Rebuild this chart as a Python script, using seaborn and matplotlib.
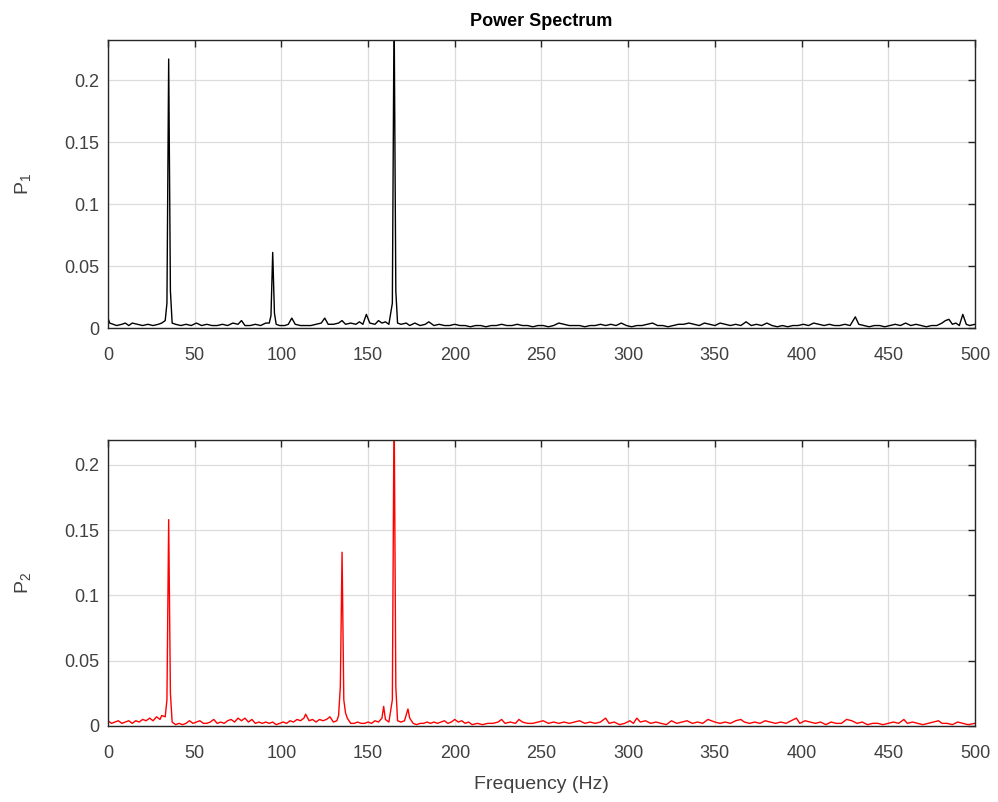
"""
Power spectrum of two signals, MATLAB-style two-panel figure.
"""

import matplotlib

matplotlib.use("Agg")
import matplotlib.pyplot as plt
import seaborn as sns
from matplotlib.ticker import FuncFormatter, MultipleLocator

# --- data ------------------------------------------------------------------
freq_1 = [
    0, 1, 3, 5, 8, 10, 12, 14, 17, 20, 23, 26, 29, 31, 33, 34, 35, 36, 37, 39,
    42, 45, 48, 51, 54, 57, 60, 63, 66, 69, 72, 75, 77, 79, 82, 85, 88, 91, 93,
    94, 95, 96, 97, 99, 102, 104, 106, 108, 111, 114, 117, 120, 123, 125, 127,
    130, 133, 135, 137, 140, 143, 145, 147, 149, 151, 154, 156, 158, 160, 162,
    164, 165, 166, 167, 169, 172, 174, 177, 180, 183, 185, 188, 191, 194, 197,
    200, 203, 206, 209, 212, 215, 218, 221, 224, 227, 230, 233, 236, 239, 242,
    245, 248, 251, 254, 257, 260, 263, 266, 269, 272, 275, 278, 281, 284, 287,
    290, 293, 296, 299, 302, 305, 308, 311, 314, 317, 320, 323, 326, 329, 332,
    335, 338, 341, 344, 347, 350, 353, 356, 359, 362, 365, 368, 371, 374, 377,
    380, 383, 386, 389, 392, 395, 398, 401, 404, 407, 410, 413, 416, 419, 422,
    425, 428, 431, 433, 436, 439, 442, 445, 448, 451, 454, 457, 460, 463, 466,
    469, 472, 475, 478, 481, 483, 485, 487, 489, 491, 493, 495, 497, 500,
]
p_1 = [
    0.008, 0.004, 0.003, 0.002, 0.003, 0.004, 0.002, 0.004, 0.003, 0.002,
    0.003, 0.002, 0.003, 0.004, 0.006, 0.020, 0.217, 0.030, 0.004, 0.003,
    0.002, 0.003, 0.002, 0.004, 0.002, 0.003, 0.002, 0.002, 0.003, 0.002,
    0.004, 0.003, 0.006, 0.002, 0.002, 0.003, 0.002, 0.004, 0.004,
    0.010, 0.061, 0.012, 0.003, 0.002, 0.002, 0.003, 0.008, 0.003, 0.002,
    0.002, 0.002, 0.003, 0.004, 0.008, 0.003,
    0.003, 0.004, 0.006, 0.003, 0.004, 0.003, 0.005, 0.003, 0.011, 0.004,
    0.003, 0.006, 0.004, 0.005, 0.003,
    0.020, 0.260, 0.030, 0.004, 0.003, 0.004, 0.002, 0.004, 0.002, 0.003,
    0.005, 0.002, 0.003, 0.002, 0.002,
    0.003, 0.002, 0.002, 0.001, 0.002, 0.002, 0.001, 0.002, 0.002, 0.003,
    0.002, 0.002, 0.003, 0.002, 0.002,
    0.001, 0.002, 0.002, 0.001, 0.002, 0.004, 0.003, 0.002, 0.002, 0.002,
    0.001, 0.002, 0.002, 0.003, 0.002,
    0.003, 0.002, 0.004, 0.002, 0.001, 0.002, 0.002, 0.003, 0.004, 0.002,
    0.002, 0.001, 0.002, 0.003, 0.003,
    0.004, 0.003, 0.002, 0.004, 0.003, 0.002, 0.004, 0.003, 0.002, 0.003,
    0.002, 0.005, 0.002, 0.003, 0.002,
    0.004, 0.002, 0.001, 0.002, 0.001, 0.002, 0.002, 0.003, 0.002, 0.004,
    0.003, 0.002, 0.003, 0.002, 0.002,
    0.003, 0.002, 0.009, 0.003, 0.002, 0.001, 0.002, 0.002, 0.001, 0.002,
    0.003, 0.002, 0.004, 0.002, 0.003,
    0.002, 0.001, 0.002, 0.002, 0.004, 0.006, 0.007, 0.003, 0.004, 0.002,
    0.011, 0.003, 0.002, 0.003,
]

freq_2 = [
    0, 2, 4, 6, 8, 10, 12, 14, 16, 18, 20, 22, 24, 26, 28, 30, 31, 33, 34, 35,
    36, 37, 39, 41, 43, 45, 47, 49, 51, 53, 55, 57, 59, 61, 63, 65, 67, 69, 71,
    73, 75, 77, 79, 81, 83, 85, 87, 89, 91, 93, 95, 97, 99, 101, 103, 105, 107,
    109, 111, 113, 114, 116, 118, 120, 122, 124, 126, 128, 130, 132, 133, 134,
    135, 136, 137, 138, 140, 142, 144, 146, 148, 150, 152, 154, 156, 158, 159,
    160, 162, 164, 165, 166, 167, 169, 171, 173, 174, 176, 178, 180, 182, 184,
    186, 188, 190, 192, 194, 196, 198, 200, 202, 204, 206, 208, 210, 213, 216,
    219, 222, 225, 227, 229, 232, 235, 237, 239, 242, 245, 248, 251, 254, 257,
    260, 263, 266, 269, 272, 275, 278, 281, 284, 287, 289, 292, 295, 298, 301,
    303, 305, 307, 310, 313, 316, 319, 322, 325, 328, 331, 334, 337, 340, 343,
    346, 348, 350, 353, 356, 359, 362, 365, 367, 370, 373, 376, 379, 382, 385,
    388, 391, 394, 397, 399, 402, 405, 408, 411, 414, 417, 420, 423, 426, 429,
    432, 435, 438, 441, 444, 447, 450, 453, 456, 459, 461, 464, 467, 470, 473,
    476, 479, 481, 484, 487, 490, 493, 496, 500,
]
p_2 = [
    0.004, 0.002, 0.003, 0.004, 0.002, 0.003, 0.004, 0.002, 0.004, 0.003,
    0.005, 0.004, 0.006, 0.004, 0.007, 0.005, 0.008, 0.007, 0.020, 0.158,
    0.025, 0.003, 0.001, 0.002, 0.001, 0.002, 0.004, 0.002, 0.003, 0.004,
    0.002, 0.002, 0.003, 0.005, 0.002, 0.003, 0.002, 0.004, 0.005,
    0.003, 0.006, 0.004, 0.006, 0.003, 0.005, 0.002, 0.003, 0.002, 0.003,
    0.002, 0.003, 0.001, 0.002, 0.003, 0.002, 0.004, 0.003,
    0.005, 0.004, 0.006, 0.009, 0.004, 0.005, 0.003, 0.005, 0.004, 0.005,
    0.007, 0.003, 0.004, 0.008, 0.030,
    0.133, 0.020, 0.010, 0.006, 0.002, 0.002, 0.003, 0.002, 0.002, 0.003,
    0.002, 0.004, 0.003, 0.006, 0.015,
    0.005, 0.003, 0.020, 0.250, 0.030, 0.004, 0.003, 0.004, 0.013, 0.006,
    0.002, 0.001, 0.002, 0.002, 0.003,
    0.002, 0.003, 0.002, 0.003, 0.004, 0.002, 0.003, 0.005, 0.003, 0.004,
    0.002, 0.003, 0.001, 0.002, 0.001,
    0.002, 0.002, 0.003, 0.005, 0.002, 0.003, 0.002, 0.005, 0.003, 0.002,
    0.002, 0.003, 0.004, 0.002, 0.003,
    0.002, 0.003, 0.002, 0.003, 0.004, 0.002, 0.003, 0.002, 0.003, 0.006,
    0.002, 0.003, 0.001, 0.002, 0.004,
    0.002, 0.006, 0.003, 0.004, 0.002, 0.003, 0.002, 0.001, 0.004, 0.002,
    0.003, 0.004, 0.002, 0.003, 0.002,
    0.005, 0.004, 0.003, 0.002, 0.003, 0.002, 0.004, 0.005, 0.003, 0.002,
    0.003, 0.002, 0.004, 0.003, 0.002,
    0.003, 0.002, 0.004, 0.006, 0.002, 0.004, 0.003, 0.002, 0.003, 0.001,
    0.003, 0.002, 0.002, 0.005, 0.004,
    0.002, 0.003, 0.001, 0.002, 0.002, 0.001, 0.002, 0.003, 0.002, 0.005,
    0.002, 0.003, 0.002, 0.001, 0.002,
    0.003, 0.004, 0.002, 0.002, 0.001, 0.003, 0.002, 0.001, 0.002,
]

x_ticks = [0, 50, 100, 150, 200, 250, 300, 350, 400, 450, 500]

# --- styling ---------------------------------------------------------------
sns.set_theme(style="white")
plt.rcParams["font.family"] = ["Liberation Sans", "DejaVu Sans"]
plt.rcParams["mathtext.fontset"] = "custom"
plt.rcParams["mathtext.rm"] = "Liberation Sans"
plt.rcParams["mathtext.it"] = "Liberation Sans"

AX_COLOR = "#262626"
TEXT_COLOR = "#404040"
GRID_COLOR = "#dcdcdc"


def style_axis(ax, ymax, ylabel):
    """Apply MATLAB-like box, ticks and grid to an axis."""
    ax.set_xlim(0, 500)
    ax.set_ylim(0, ymax)
    ax.set_xticks(x_ticks)
    ax.yaxis.set_major_locator(MultipleLocator(0.05))
    ax.yaxis.set_major_formatter(FuncFormatter(lambda v, _: f"{v:g}"))
    ax.grid(True, color=GRID_COLOR, linewidth=0.9)
    ax.set_axisbelow(True)
    for spine in ax.spines.values():
        spine.set_visible(True)
        spine.set_color(AX_COLOR)
        spine.set_linewidth(1.0)
    ax.tick_params(
        direction="in",
        top=True,
        right=True,
        length=5,
        width=1.0,
        color=AX_COLOR,
        labelcolor=TEXT_COLOR,
        labelsize=13,
    )
    ax.tick_params(axis="x", pad=14)
    ax.tick_params(axis="y", pad=6)
    ax.set_ylabel(ylabel, fontsize=14, color=TEXT_COLOR, labelpad=23)


fig = plt.figure(figsize=(9.98, 8.02), dpi=100)
ax1 = fig.add_axes([0.1082, 0.591, 0.8687, 0.359])
ax2 = fig.add_axes([0.1082, 0.0948, 0.8687, 0.3566])

sns.lineplot(x=freq_1, y=p_1, ax=ax1, color="black", linewidth=1.0)
sns.lineplot(x=freq_2, y=p_2, ax=ax2, color="red", linewidth=1.0)

style_axis(ax1, 0.2323, r"$\mathregular{P_1}$")
style_axis(ax2, 0.219, r"$\mathregular{P_2}$")

ax1.set_title("Power Spectrum", fontsize=13, fontweight="bold", color="black", pad=10)
ax2.set_xlabel("Frequency (Hz)", fontsize=14, color=TEXT_COLOR, labelpad=10)

fig.savefig("out.png", dpi=100)
